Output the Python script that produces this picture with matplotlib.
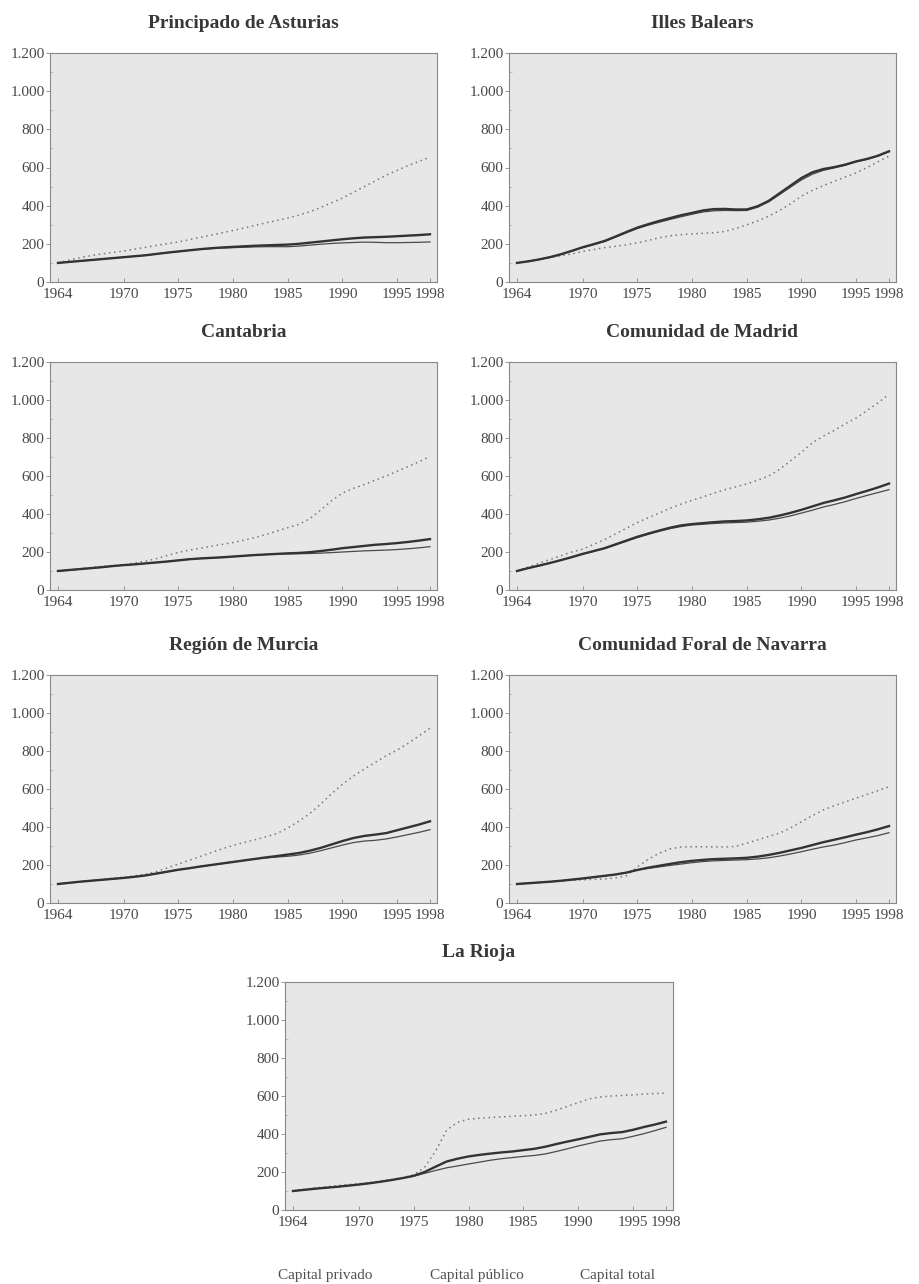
import numpy as np
import matplotlib
matplotlib.use("Agg")
import matplotlib.pyplot as plt
from matplotlib.ticker import FuncFormatter, MultipleLocator

plt.rcParams['font.family'] = ['Liberation Serif', 'DejaVu Serif']

# Años y datos (índice 1964 = 100)
years = list(range(1964, 1999))

regiones = ['Principado de Asturias', 'Illes Balears', 'Cantabria',
            'Comunidad de Madrid', 'Región de Murcia',
            'Comunidad Foral de Navarra', 'La Rioja']

asturias_total = [100, 105, 110, 115, 120, 125, 130, 135, 140, 147, 154, 160, 166, 172, 177, 181, 184, 187,
                  190, 192, 194, 196, 200, 206, 212, 218, 224, 229, 233, 235, 237, 240, 243, 246, 250]
asturias_privado = [100, 105, 110, 115, 120, 125, 130, 135, 140, 147, 154, 160, 166, 171, 175, 178, 180, 182,
                    184, 185, 185, 185, 188, 193, 198, 202, 205, 207, 209, 208, 206, 206, 207, 208, 210]
asturias_publico = [100, 115, 127, 138, 147, 155, 162, 172, 182, 192, 201, 210, 222, 234, 246, 258, 270, 283,
                    296, 310, 322, 335, 350, 368, 390, 415, 440, 470, 500, 530, 560, 585, 610, 632, 655]

baleares_total = [100, 108, 118, 130, 145, 163, 182, 198, 215, 238, 262, 285, 303, 320, 335, 350, 362, 375,
                  382, 383, 380, 380, 397, 425, 465, 505, 545, 575, 592, 602, 615, 632, 645, 662, 685]
baleares_privado = [100, 108, 118, 130, 145, 163, 180, 196, 212, 235, 258, 280, 298, 313, 328, 342, 355, 367,
                    373, 375, 374, 375, 392, 420, 458, 497, 535, 565, 585, 598, 612, 630, 643, 660, 683]
baleares_publico = [100, 108, 118, 128, 137, 147, 160, 170, 180, 187, 195, 205, 218, 232, 242, 248, 252, 255,
                    258, 265, 280, 300, 320, 345, 375, 410, 450, 480, 505, 528, 550, 572, 600, 630, 660]

cantabria_total = [100, 105, 110, 115, 120, 126, 131, 135, 140, 145, 150, 156, 162, 166, 169, 172, 176, 180,
                   184, 187, 190, 193, 195, 199, 205, 212, 220, 226, 232, 238, 242, 247, 253, 260, 268]
cantabria_privado = [100, 105, 110, 115, 120, 126, 131, 135, 140, 145, 150, 156, 162, 166, 169, 172, 176, 180,
                     184, 187, 189, 190, 191, 192, 194, 197, 200, 203, 206, 208, 210, 213, 217, 222, 228]
cantabria_publico = [100, 106, 112, 118, 124, 128, 132, 142, 152, 165, 182, 198, 210, 220, 230, 240, 250, 262,
                     276, 292, 310, 328, 345, 375, 420, 470, 510, 535, 555, 578, 600, 625, 650, 675, 703]

madrid_total = [100, 115, 128, 142, 157, 173, 190, 205, 220, 240, 260, 280, 297, 313, 328, 340, 347, 352,
                357, 361, 363, 366, 372, 380, 392, 406, 422, 440, 458, 472, 487, 505, 522, 540, 560]
madrid_privado = [100, 115, 128, 142, 157, 172, 188, 203, 218, 237, 257, 276, 293, 309, 323, 334, 342, 346,
                  350, 353, 355, 357, 362, 368, 378, 390, 405, 420, 437, 450, 465, 482, 498, 513, 528]
madrid_publico = [100, 120, 140, 160, 180, 200, 215, 240, 265, 295, 325, 355, 380, 405, 430, 452, 472, 490,
                  510, 528, 543, 558, 578, 600, 635, 680, 725, 775, 810, 840, 875, 905, 945, 985, 1030]

murcia_total = [100, 106, 112, 117, 122, 127, 132, 138, 145, 155, 165, 175, 183, 192, 200, 208, 216, 224,
                232, 240, 247, 255, 263, 275, 290, 308, 326, 342, 353, 360, 368, 383, 398, 413, 430]
murcia_privado = [100, 106, 112, 117, 122, 127, 132, 138, 145, 155, 165, 175, 183, 192, 200, 208, 216, 224,
                  232, 237, 242, 246, 252, 262, 275, 290, 305, 318, 326, 330, 337, 348, 360, 372, 386]
murcia_publico = [100, 106, 112, 118, 124, 130, 136, 143, 152, 165, 185, 205, 225, 245, 265, 285, 303, 318,
                  333, 348, 365, 395, 430, 470, 520, 575, 625, 668, 705, 740, 775, 805, 840, 880, 920]

navarra_total = [100, 104, 108, 112, 117, 123, 129, 136, 143, 150, 160, 174, 186, 196, 206, 215, 222, 227,
                 231, 233, 235, 238, 244, 253, 264, 277, 290, 305, 320, 333, 346, 360, 373, 388, 405]
navarra_privado = [100, 104, 108, 112, 117, 123, 129, 136, 143, 150, 160, 174, 182, 190, 198, 205, 212, 218,
                   222, 224, 226, 228, 232, 238, 247, 258, 270, 283, 295, 305, 318, 332, 343, 355, 370]
navarra_publico = [100, 104, 108, 112, 116, 120, 122, 124, 127, 132, 143, 190, 230, 262, 285, 295, 296, 296,
                   295, 295, 298, 315, 332, 350, 368, 395, 428, 460, 490, 512, 532, 552, 572, 592, 612]

rioja_total = [100, 106, 112, 117, 122, 128, 134, 141, 149, 158, 168, 180, 200, 228, 255, 270, 282, 290,
               297, 303, 308, 315, 322, 333, 347, 360, 372, 385, 398, 405, 410, 422, 437, 450, 465]
rioja_privado = [100, 106, 112, 117, 122, 128, 134, 141, 149, 158, 168, 178, 193, 208, 222, 232, 242, 252,
                 262, 270, 276, 282, 287, 295, 308, 322, 337, 350, 363, 370, 375, 388, 402, 418, 435]
rioja_publico = [100, 108, 116, 122, 128, 134, 138, 144, 152, 160, 170, 185, 225, 310, 420, 462, 478, 483,
                 487, 490, 493, 496, 500, 508, 525, 545, 565, 585, 595, 600, 603, 606, 610, 613, 615]

privado = [asturias_privado, baleares_privado, cantabria_privado, madrid_privado,
           murcia_privado, navarra_privado, rioja_privado]
publico = [asturias_publico, baleares_publico, cantabria_publico, madrid_publico,
           murcia_publico, navarra_publico, rioja_publico]
total = [asturias_total, baleares_total, cantabria_total, madrid_total,
         murcia_total, navarra_total, rioja_total]

xticks = [1964, 1970, 1975, 1980, 1985, 1990, 1995, 1998]
yticks = [0, 200, 400, 600, 800, 1000, 1200]

fig = plt.figure(figsize=(9.19, 12.84), dpi=100)
W, H = 919, 1284

# posiciones de los paneles en pixeles (izq, arriba, der, abajo)
cajas = [(50, 53, 437, 282), (509, 53, 896, 282),
         (50, 362, 437, 590), (509, 362, 896, 590),
         (50, 675, 437, 903), (509, 675, 896, 903),
         (285, 982, 673, 1210)]

miles = FuncFormatter(lambda v, p: f"{int(v):,}".replace(",", "."))

for i, nombre in enumerate(regiones):
    l, t, r, b = cajas[i]
    ax = fig.add_axes([l / W, 1 - b / H, (r - l) / W, (b - t) / H])
    ax.set_facecolor('#e7e7e7')
    ax.plot(years, publico[i], linestyle=(0, (1, 2.4)), color='#777777', lw=1.1)
    ax.plot(years, privado[i], color='#4a4a4a', lw=0.9)
    ax.plot(years, total[i], color='#333333', lw=1.7)
    ax.set_xlim(1963.27, 1998.64)
    ax.set_ylim(0, 1200)
    ax.set_xticks(xticks)
    ax.set_yticks(yticks)
    ax.yaxis.set_major_formatter(miles)
    ax.yaxis.set_minor_locator(MultipleLocator(100))
    ax.tick_params(axis='x', direction='in', length=3, width=0.6, color='#888888',
                   labelsize=11, labelcolor='#484848', pad=4)
    ax.tick_params(axis='y', direction='out', length=3, width=0.6, color='#888888',
                   labelsize=11, labelcolor='#484848', pad=1)
    ax.tick_params(axis='y', which='minor', direction='in', length=2, width=0.5, color='#aaaaaa')
    for s in ax.spines.values():
        s.set_color('#888888')
        s.set_linewidth(0.8)
    ax.set_title(nombre, fontsize=14, fontweight='bold', color='#383838', pad=18)

# leyenda (solo texto)
fig.text(325 / W, 1 - 1275 / H, 'Capital privado', ha='center', va='center', fontsize=11, color='#505050')
fig.text(477 / W, 1 - 1275 / H, 'Capital público', ha='center', va='center', fontsize=11, color='#505050')
fig.text(617 / W, 1 - 1275 / H, 'Capital total', ha='center', va='center', fontsize=11, color='#505050')

fig.savefig('out.png', dpi=100, facecolor='white')
